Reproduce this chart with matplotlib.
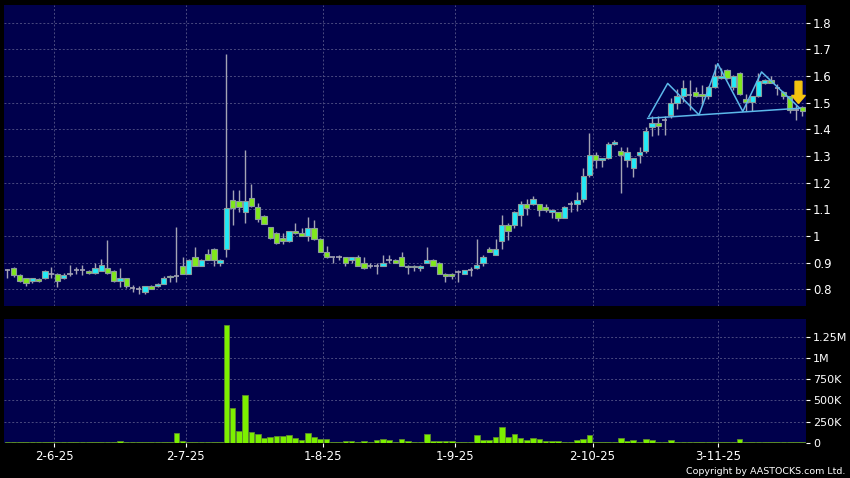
import numpy as np
import pandas as pd
import matplotlib
matplotlib.use("Agg")
import matplotlib.pyplot as plt
from matplotlib.ticker import FixedLocator

# trading days (HK holidays removed)
holidays = ["2025-07-01", "2025-10-01", "2025-10-07", "2025-10-29"]
dates = pd.bdate_range("2025-05-21", "2025-11-20", freq="C", holidays=holidays)

opens = [0.872, 0.881, 0.852, 0.841, 0.830, 0.840, 0.841, 0.859, 0.859, 0.841,
         0.859, 0.873, 0.873, 0.870, 0.860, 0.870, 0.881, 0.870, 0.831, 0.841,
         0.804, 0.800, 0.791, 0.811, 0.811, 0.821, 0.851, 0.851, 0.889, 0.858,
         0.921, 0.889, 0.931, 0.952, 0.900, 0.952, 1.135, 1.132, 1.091, 1.141,
         1.110, 1.075, 1.032, 1.012, 0.991, 0.980, 1.020, 1.010, 1.000, 1.030,
         0.989, 0.940, 0.921, 0.921, 0.921, 0.910, 0.921, 0.900, 0.889, 0.889,
         0.888, 0.911, 0.911, 0.921, 0.889, 0.889, 0.880, 0.900, 0.911, 0.900,
         0.858, 0.858, 0.865, 0.858, 0.872, 0.880, 0.900, 0.952, 0.930, 0.981,
         1.041, 1.041, 1.079, 1.119, 1.119, 1.119, 1.109, 1.089, 1.089, 1.069,
         1.120, 1.120, 1.137, 1.229, 1.302, 1.283, 1.291, 1.344, 1.320, 1.285,
         1.254, 1.302, 1.320, 1.407, 1.423, 1.436, 1.454, 1.500, 1.523, 1.528,
         1.541, 1.531, 1.523, 1.559, 1.593, 1.621, 1.559, 1.612, 1.512, 1.504,
         1.523, 1.575, 1.584, 1.555, 1.541, 1.523, 1.473, 1.485]
highs = [0.876, 0.884, 0.859, 0.844, 0.843, 0.842, 0.872, 0.883, 0.861, 0.862,
         0.890, 0.883, 0.890, 0.872, 0.900, 0.912, 0.983, 0.872, 0.881, 0.843,
         0.816, 0.812, 0.813, 0.815, 0.825, 0.851, 0.855, 1.032, 0.923, 0.913,
         0.960, 0.913, 0.950, 0.955, 0.913, 1.682, 1.172, 1.172, 1.322, 1.195,
         1.122, 1.080, 1.035, 1.015, 1.011, 1.020, 1.048, 1.030, 1.072, 1.060,
         0.992, 0.961, 0.923, 0.930, 0.923, 0.923, 0.930, 0.921, 0.900, 0.900,
         0.930, 0.930, 0.913, 0.940, 0.891, 0.891, 0.891, 0.960, 0.913, 0.902,
         0.860, 0.860, 0.872, 0.874, 0.882, 0.989, 0.930, 0.960, 0.989, 1.079,
         1.050, 1.092, 1.130, 1.137, 1.150, 1.121, 1.119, 1.101, 1.091, 1.111,
         1.131, 1.166, 1.254, 1.385, 1.315, 1.287, 1.352, 1.360, 1.335, 1.333,
         1.293, 1.335, 1.410, 1.448, 1.448, 1.448, 1.516, 1.550, 1.584, 1.584,
         1.560, 1.566, 1.562, 1.646, 1.630, 1.625, 1.602, 1.615, 1.534, 1.525,
         1.610, 1.590, 1.600, 1.570, 1.545, 1.526, 1.490, 1.488]
lows = [0.842, 0.845, 0.828, 0.812, 0.822, 0.828, 0.840, 0.841, 0.810, 0.839,
        0.850, 0.859, 0.853, 0.858, 0.858, 0.868, 0.858, 0.829, 0.810, 0.805,
        0.791, 0.781, 0.781, 0.800, 0.809, 0.819, 0.828, 0.828, 0.856, 0.856,
        0.887, 0.887, 0.909, 0.889, 0.889, 0.922, 1.041, 1.091, 1.050, 1.110,
        1.053, 1.043, 0.989, 0.969, 0.969, 0.978, 1.008, 0.998, 0.981, 0.985,
        0.938, 0.919, 0.900, 0.909, 0.888, 0.899, 0.887, 0.878, 0.880, 0.859,
        0.886, 0.897, 0.898, 0.887, 0.859, 0.868, 0.868, 0.898, 0.887, 0.856,
        0.828, 0.838, 0.828, 0.856, 0.851, 0.878, 0.889, 0.938, 0.928, 0.952,
        0.985, 1.029, 1.038, 1.080, 1.117, 1.073, 1.089, 1.069, 1.057, 1.069,
        1.089, 1.094, 1.128, 1.222, 1.254, 1.260, 1.289, 1.342, 1.162, 1.260,
        1.222, 1.272, 1.310, 1.374, 1.380, 1.380, 1.444, 1.475, 1.503, 1.473,
        1.520, 1.490, 1.515, 1.556, 1.590, 1.590, 1.547, 1.527, 1.470, 1.470,
        1.520, 1.570, 1.572, 1.530, 1.515, 1.460, 1.436, 1.448]
closes = [0.872, 0.852, 0.830, 0.822, 0.841, 0.832, 0.870, 0.859, 0.831, 0.852,
          0.859, 0.873, 0.873, 0.862, 0.881, 0.890, 0.860, 0.831, 0.841, 0.811,
          0.804, 0.800, 0.811, 0.802, 0.821, 0.841, 0.845, 0.851, 0.858, 0.911,
          0.889, 0.911, 0.911, 0.911, 0.911, 1.104, 1.104, 1.110, 1.132, 1.112,
          1.062, 1.045, 0.991, 0.972, 0.981, 1.018, 1.010, 1.000, 1.030, 0.988,
          0.940, 0.921, 0.921, 0.921, 0.900, 0.921, 0.889, 0.880, 0.889, 0.889,
          0.900, 0.911, 0.900, 0.889, 0.882, 0.882, 0.889, 0.911, 0.889, 0.858,
          0.851, 0.851, 0.865, 0.872, 0.872, 0.890, 0.923, 0.940, 0.952, 1.041,
          1.017, 1.089, 1.119, 1.106, 1.137, 1.099, 1.099, 1.099, 1.069, 1.109,
          1.120, 1.133, 1.225, 1.304, 1.285, 1.291, 1.344, 1.352, 1.302, 1.314,
          1.291, 1.314, 1.393, 1.423, 1.414, 1.436, 1.500, 1.523, 1.553, 1.528,
          1.523, 1.523, 1.559, 1.600, 1.600, 1.593, 1.600, 1.531, 1.504, 1.523,
          1.581, 1.584, 1.575, 1.555, 1.523, 1.473, 1.473, 1.467]
# volume in thousands of shares
volumes = [10, 9, 9, 8, 8, 10, 9, 8, 10, 8, 9, 10, 8, 9, 10, 9, 8, 9, 27, 10,
           9, 9, 10, 9, 10, 10, 9, 117, 23, 10, 10, 9, 10, 9, 10, 1383, 406, 145,
           559, 133, 102, 62, 74, 86, 82, 94, 59, 39, 117, 74, 47, 43, 16, 16, 27,
           27, 16, 27, 12, 35, 43, 35, 12, 43, 27, 12, 12, 109, 27, 27, 23, 27, 16,
           12, 12, 98, 31, 31, 74, 184, 74, 105, 62, 35, 59, 51, 27, 27, 27, 16,
           16, 31, 43, 94, 8, 8, 8, 8, 62, 20, 35, 16, 47, 31, 12, 12, 39, 12, 12,
           12, 12, 12, 12, 8, 8, 8, 8, 47, 16, 8, 8, 8, 8, 8, 8, 8, 8, 8]

# pattern drawn on the chart (trading-day index, price)
zigzag_x = [102.5, 105.5, 110.5, 113.5, 117.5, 120.5, 126.6]
zigzag_y = [1.448, 1.572, 1.454, 1.646, 1.467, 1.615, 1.479]
neck_x = [102.3, 126.6]
neck_y = [1.441, 1.479]
arrow_x = 126.4
arrow_top, arrow_bottom = 1.580, 1.497

price_ticks = [0.8, 0.9, 1.0, 1.1, 1.2, 1.3, 1.4, 1.5, 1.6, 1.7, 1.8]
vol_ticks = [0, 250, 500, 750, 1000, 1250]
vol_labels = ["0", "250K", "500K", "750K", "1M", "1.25M"]

BG = "#00004c"
GRID = "#4a4a80"
UP = "#22eaf6"
DOWN = "#80e81c"
WICK = "#a4a4b4"
EDGE = "#8c9c9c"

o = np.array(opens); h = np.array(highs); l = np.array(lows); c = np.array(closes)
idx = np.arange(len(dates))

# first trading day of each month
month_start = [i for i in range(1, len(dates)) if dates[i].month != dates[i - 1].month]
month_labels = [f"{dates[i].day}-{dates[i].month}-{dates[i].year % 100}" for i in month_start]
grid_x = [i - 0.5 for i in month_start]

fig = plt.figure(figsize=(8.5, 4.78), dpi=100, facecolor="black")
ax = fig.add_axes([4 / 850, 1 - 306 / 478, 802 / 850, 301 / 478])
axv = fig.add_axes([4 / 850, 1 - 443 / 478, 802 / 850, 124 / 478], sharex=ax)

for a in (ax, axv):
    a.set_facecolor(BG)
    for s in a.spines.values():
        s.set_visible(False)
    a.yaxis.tick_right()
    a.tick_params(axis="y", colors="white", length=3, width=0.8, pad=2, labelsize=8.5)
    for gx in grid_x:
        a.axvline(gx, color=GRID, lw=0.7, ls=(0, (2, 2)), zorder=0)

# price panel
for p in price_ticks:
    ax.axhline(p, color=GRID, lw=0.7, ls=(0, (2, 2)), zorder=0)
ax.vlines(idx, l, h, color=WICK, lw=1, zorder=2)
up = c > o
down = c < o
flat = c == o
w = 0.85
ax.bar(idx[up], (c - o)[up], bottom=o[up], width=w, color=UP, edgecolor=EDGE, lw=0.8, zorder=3)
ax.bar(idx[down], (o - c)[down], bottom=c[down], width=w, color=DOWN, edgecolor=EDGE, lw=0.8, zorder=3)
ax.hlines(c[flat], idx[flat] - w / 2, idx[flat] + w / 2, color=WICK, lw=1.2, zorder=3)

ax.plot(zigzag_x, zigzag_y, color="#5cb8ea", lw=1.1, zorder=4)
ax.plot(neck_x, neck_y, color="#5cb8ea", lw=1.1, zorder=4)
ax.arrow(arrow_x, arrow_top, 0, arrow_bottom - arrow_top, width=1.1, head_width=2.2,
         head_length=0.03, length_includes_head=True, color="#f5c410", zorder=5)

ax.set_ylim(0.7374, 1.866)
ax.set_yticks(price_ticks)
ax.set_yticklabels([f"{p:g}" for p in price_ticks])
ax.tick_params(axis="x", bottom=False, labelbottom=False)

# volume panel
for v in vol_ticks:
    axv.axhline(v, color=GRID, lw=0.7, ls=(0, (2, 2)), zorder=0)
axv.bar(idx, volumes, width=0.9, color="#7cf000", edgecolor="#5c8a2c", lw=0.6, zorder=3)
axv.set_ylim(0, 1458)
axv.set_yticks(vol_ticks)
axv.set_yticklabels(vol_labels)
axv.tick_params(axis="y", labelsize=8)
axv.xaxis.set_major_locator(FixedLocator(grid_x))
axv.set_xticklabels(month_labels)
axv.tick_params(axis="x", colors="white", length=3, width=0.8, pad=2, labelsize=8.5)
axv.set_xlim(-0.53, 127.6)

fig.text(0.994, 0.004, "Copyright by AASTOCKS.com Ltd.", ha="right", va="bottom",
         color="white", fontsize=6.8)

fig.savefig("out.png", dpi=100, facecolor="black")
